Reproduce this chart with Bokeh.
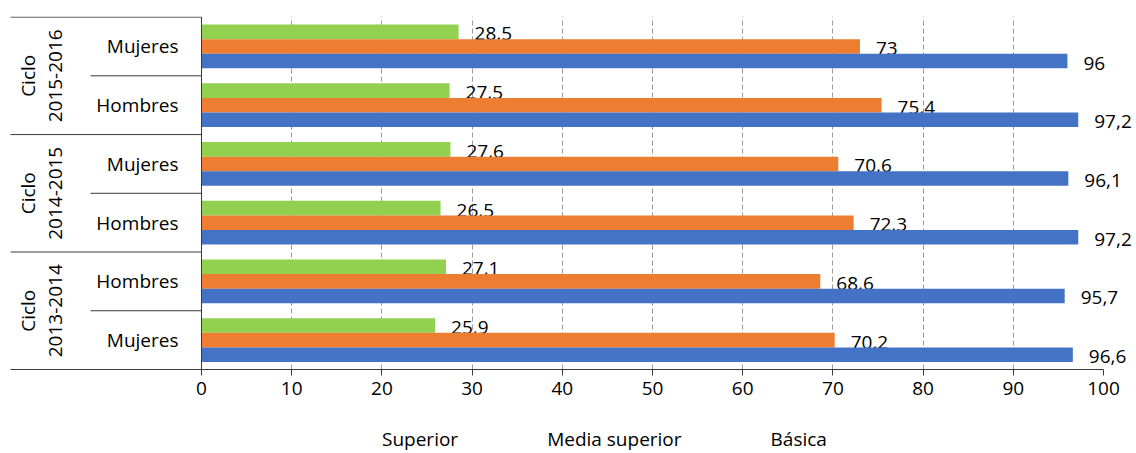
import numpy as np
from bokeh.plotting import figure
from bokeh.layouts import column
from bokeh.models import ColumnDataSource, FixedTicker, Legend, LegendItem, Range1d
from bokeh.core.properties import value
from bokeh.embed import file_html
from bokeh.resources import INLINE

# ---- data (rows listed bottom to top) ----
cycles = ["2013-2014", "2014-2015", "2015-2016"]
genders = ["Mujeres", "Hombres", "Hombres", "Mujeres", "Hombres", "Mujeres"]
cycle_of_row = [0, 0, 1, 1, 2, 2]
superior = [25.9, 27.1, 26.5, 27.6, 27.5, 28.5]
media_superior = [70.2, 68.6, 72.3, 70.6, 75.4, 73.0]
basica = [96.6, 95.7, 97.2, 96.1, 97.2, 96.0]
series_names = ["Superior", "Media superior", "Básica"]
series_colors = ["#92D050", "#ED7D31", "#4472C4"]
x_ticks = [0, 10, 20, 30, 40, 50, 60, 70, 80, 90, 100]

FONT = "Open Sans"
FS = "19px"
LINE = "#3a3a3a"

W, H = 1136, 453
H_MAIN = 410
H_LEG = H - H_MAIN
PX_LEFT = 201.0          # pixel of x = 0
PX_PER_UNIT = 9.02       # pixels per unit
x_start = -PX_LEFT / PX_PER_UNIT
x_end = (W - PX_LEFT) / PX_PER_UNIT
X_OUTER = (10 - PX_LEFT) / PX_PER_UNIT
X_INNER = (90 - PX_LEFT) / PX_PER_UNIT
X_CICLO = (27 - PX_LEFT) / PX_PER_UNIT
X_YEARS = (55 - PX_LEFT) / PX_PER_UNIT
X_GENDER = (178 - PX_LEFT) / PX_PER_UNIT

n = len(genders)
bar_h = 0.248
centers = np.arange(n) + 0.5
offsets = [bar_h, 0.0, -bar_h]
series = [superior, media_superior, basica]

p = figure(width=W, height=H_MAIN, output_backend="svg", toolbar_location=None,
           x_range=Range1d(x_start, x_end), y_range=Range1d(0, 6.01),
           y_axis_location=None, min_border_left=0, min_border_right=0,
           min_border_top=16, min_border_bottom=41)
p.outline_line_color = None
p.background_fill_color = "white"
p.border_fill_color = "white"

# grid
p.ygrid.visible = False
p.xgrid.ticker = FixedTicker(ticks=x_ticks[1:-1])
p.xgrid.grid_line_color = "#9a9a9a"
p.xgrid.grid_line_dash = "5 3"
p.xgrid.grid_line_width = 1

# x axis
ax = p.xaxis[0]
ax.ticker = FixedTicker(ticks=x_ticks)
ax.bounds = (X_OUTER, 100)
ax.axis_line_color = LINE
ax.major_tick_line_color = LINE
ax.major_tick_out = 6
ax.major_tick_in = 0
ax.minor_tick_line_color = None
ax.major_label_standoff = 6
ax.major_label_text_font = FONT
ax.major_label_text_font_size = FS
ax.major_label_text_color = "#000000"

for vals, off, col in zip(series, offsets, series_colors):
    src = ColumnDataSource(dict(y=centers + off, v=vals,
                                lab=[f"{v:g}".replace(".", ",") for v in vals]))
    p.hbar(y="y", left=0, right="v", height=bar_h, source=src,
           fill_color=col, line_color=None)
    p.text(x="v", y="y", text="lab", source=src, x_offset=16, y_offset=2,
           text_align="left", text_baseline="middle", text_font=value(FONT),
           text_font_size=FS, text_color="#000000")

# category labels and separators
p.text(x=[X_GENDER] * n, y=list(centers), text=genders, text_align="right",
       text_baseline="middle", text_font=value(FONT), text_font_size=FS,
       text_color="#000000")
cyc_centers = [2 * i + 1 for i in range(len(cycles))]
p.text(x=[X_CICLO] * len(cycles), y=cyc_centers, text=["Ciclo"] * len(cycles),
       angle=np.pi / 2, text_align="center", text_baseline="middle",
       text_font=value(FONT), text_font_size=FS, text_color="#000000")
p.text(x=[X_YEARS] * len(cycles), y=cyc_centers, text=cycles,
       angle=np.pi / 2, text_align="center", text_baseline="middle",
       text_font=value(FONT), text_font_size=FS, text_color="#000000")

outer_y = [2, 4, 6]
inner_y = [1, 3, 5]
p.segment(x0=[X_OUTER] * len(outer_y), x1=[0] * len(outer_y), y0=outer_y, y1=outer_y,
          line_color=LINE, line_width=1)
p.segment(x0=[X_INNER] * len(inner_y), x1=[0] * len(inner_y), y0=inner_y, y1=inner_y,
          line_color=LINE, line_width=1)
p.segment(x0=[0], x1=[0], y0=[0], y1=[6], line_color=LINE, line_width=1)

# ---- legend strip (separate figure below the chart) ----
pl = figure(width=W, height=H_LEG, output_backend="svg", toolbar_location=None,
            x_range=Range1d(0, 1), y_range=Range1d(0, 1),
            x_axis_location=None, y_axis_location=None,
            min_border_left=0, min_border_right=0, min_border_top=0, min_border_bottom=0)
pl.outline_line_color = None
pl.grid.visible = False
pl.background_fill_color = "white"
pl.border_fill_color = "white"
leg_renderers = []
for col in series_colors:
    leg_renderers.append(pl.hbar(y=[], left=[], right=[], height=0.1,
                                 fill_color=col, line_color=None))
legend = Legend(items=[LegendItem(label=nm, renderers=[r]) for nm, r in zip(series_names, leg_renderers)],
                orientation="horizontal", location=(363, 1), glyph_width=13, glyph_height=13,
                label_standoff=6, spacing=70, border_line_color=None,
                background_fill_alpha=0, label_text_font=FONT, label_text_font_size=FS,
                label_text_color="#000000", padding=2, margin=0)
pl.add_layout(legend, "center")

layout = column(p, pl, spacing=0)
open("out.html", "w").write(file_html(layout, INLINE))
